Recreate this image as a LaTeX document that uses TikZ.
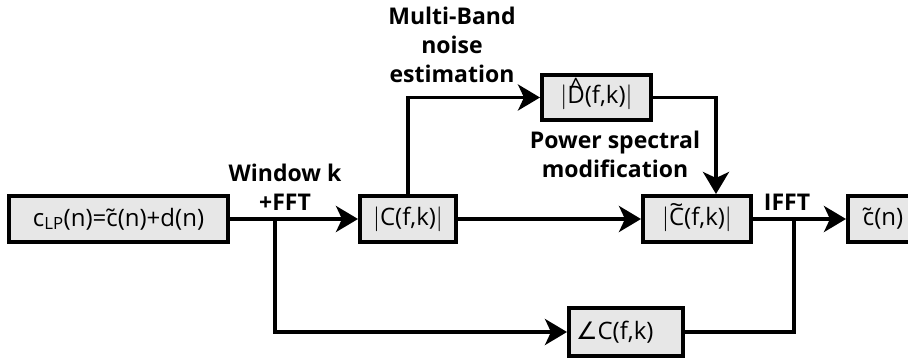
\documentclass[tikz,border=0pt]{standalone}
\usepackage{fontspec}
\setmainfont{Open Sans}
\newfontfamily\symfont{DejaVu Sans}
\usepackage{tikz}
\usetikzlibrary{positioning,arrows.meta,calc}
\definecolor{blkfill}{RGB}{231,231,231}
\definecolor{sigclr}{RGB}{0,0,0}
\newcommand{\hatD}{\ooalign{D\cr\hidewidth\raisebox{0.36em}{\textasciicircum}\hidewidth\cr}}
\newcommand{\tildeC}{\ooalign{C\cr\hidewidth\raisebox{0.5em}{\textasciitilde}\hidewidth\cr}}
\newcommand{\vbar}{$\big|$}
\tikzset{
    blk/.style={rectangle,draw=sigclr,line width=4pt,fill=blkfill,
                minimum height=46pt,inner sep=2pt,font=\fontsize{24}{28}\selectfont},
    lbl/.style={align=center,font=\fontsize{23}{29}\selectfont\bfseries},
    sig/.style={draw=sigclr,line width=3.6pt},
    flow/.style={sig,-{Stealth[length=22pt,width=26pt,inset=6pt]}},
}

\begin{document}
\begin{tikzpicture}[x=1pt,y=-1pt]
\useasboundingbox (0,0) rectangle (908,358);
\node[blk,minimum width=219pt] (sig) at (118.5,219) {c\textsubscript{LP}(n)=\~{c}(n)+d(n)};
\node[blk,minimum width=96pt] (mag) at (408,219) {\vbar C(f,k)\vbar};
\node[blk,minimum width=109pt,minimum height=45pt] (noise) at (596.5,97.5) {\vbar\hatD(f,k)\vbar};
\node[blk,minimum width=108pt] (clean) at (697,219) {\vbar\tildeC(f,k)\vbar};
\node[blk,minimum width=70pt] (out) at (883,219) {\~{c}(n)};
\node[blk,minimum width=114pt,minimum height=48pt,text width=100pt,align=left,inner xsep=7pt] (phase) at (626,332) {{\symfont ∠}C(f,k)};
\coordinate (split) at (275,219);
\coordinate (merge) at (794,219);
\node[lbl] (wlbl) at (285,187) {Window k\\+FFT};
\node[lbl] (nlbl) at (452,45) {Multi-Band\\noise\\estimation};
\node[lbl] (plbl) at (615,154) {Power spectral\\modification};
\node[lbl] (ilbl) at (787,202) {IFFT};
\draw[flow] (sig.east) -- (mag.west);
\draw[flow] (split) |- (phase.west);
\draw[flow] (mag.north) |- (noise.west);
\draw[flow] (noise.east) -| ([xshift=19pt]clean.north);
\draw[flow] (mag.east) -- (clean.west);
\draw[flow] (clean.east) -- (out.west);
\draw[sig] (phase.east) -| (merge);
\end{tikzpicture}
\end{document}
